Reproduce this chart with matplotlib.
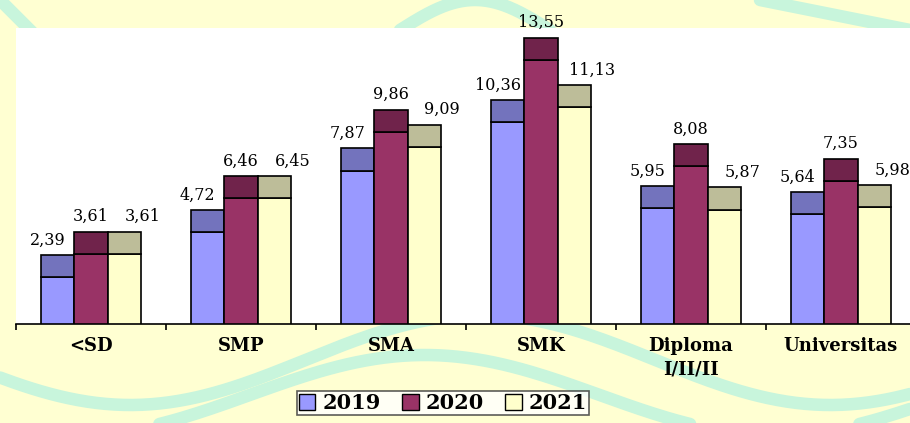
import numpy as np
import matplotlib.pyplot as plt
from matplotlib.patches import Patch

# data
kategori = ["<SD", "SMP", "SMA", "SMK", "Diploma\nI/II/II", "Universitas"]
tahun = ["2019", "2020", "2021"]
nilai_2019 = [2.39, 4.72, 7.87, 10.36, 5.95, 5.64]
nilai_2020 = [3.61, 6.46, 9.86, 13.55, 8.08, 7.35]
nilai_2021 = [3.61, 6.45, 9.09, 11.13, 5.87, 5.98]

warna_depan = ["#9999FF", "#993366", "#FFFFCC"]   # front face
warna_atas = ["#7373BD", "#70234B", "#BDBD99"]    # top face (3d look)

W, H = 910, 423
fig = plt.figure(figsize=(W / 100, H / 100), dpi=100, facecolor="#FFFFD2")

# background watermark, just some soft mint bands
def px(xs, ys):
    return np.array(xs) / W, 1 - np.array(ys) / H

t = np.linspace(0, 1, 200)
for xs, ys in [
    (t * 910, 360 + 45 * np.sin(t * 2 * np.pi * 1.3 + 0.4)),
    (t * 910, 395 + 40 * np.sin(t * 2 * np.pi * 1.3 + 0.9)),
    (t * 60, t * 60),
    (400 + t * 150, 30 - 30 * np.sin(t * np.pi)),
    (760 + t * 150, t * 30),
]:
    fx, fy = px(xs, ys)
    fig.add_artist(plt.Line2D(fx, fy, color="#C8F5DC", lw=9, zorder=0,
                              transform=fig.transFigure, solid_capstyle="round"))

ax = fig.add_axes([16 / W, (H - 324) / H, 900 / W, 296 / H])
ax.set_facecolor("white")
ax.set_zorder(1)

x = np.arange(len(kategori))
lebar = 0.222
depth = 1.13
semua = [nilai_2019, nilai_2020, nilai_2021]
geser_label = [-10, 0, 18]  # px shift of value labels

for i, vals in enumerate(semua):
    pos = x + (i - 1) * lebar
    ax.bar(pos, vals, width=lebar, color=warna_depan[i], edgecolor="black",
           linewidth=1.2, zorder=3)
    ax.bar(pos, [depth] * len(vals), bottom=vals, width=lebar,
           color=warna_atas[i], edgecolor="black", linewidth=1.2, zorder=3)
    for p, v in zip(pos, vals):
        ax.annotate(f"{v:.2f}".replace(".", ","), (p, v + depth),
                    xytext=(geser_label[i] * 0.72, 15 * 0.72),
                    textcoords="offset points", ha="center", va="center",
                    fontsize=11.5, family="DejaVu Serif", color="black",
                    annotation_clip=False)

ax.set_xlim(-0.5, len(kategori) - 0.5)
ax.set_ylim(0, 296 / 19.5)

for s in ["left", "top", "right"]:
    ax.spines[s].set_visible(False)
ax.spines["bottom"].set_linewidth(1.2)
ax.set_yticks([])

ax.set_xticks(np.arange(len(kategori) + 1) - 0.5)
ax.set_xticklabels([])
ax.tick_params(axis="x", which="major", direction="out", length=4.5, width=1.2)
ax.set_xticks(x, kategori, minor=True)
ax.tick_params(axis="x", which="minor", length=0, pad=9)
for lbl in ax.get_xticklabels(minor=True):
    lbl.set_fontfamily("DejaVu Serif")
    lbl.set_fontweight("bold")
    lbl.set_fontsize(13)
    lbl.set_linespacing(1.45)

handles = [Patch(facecolor=warna_depan[i], edgecolor="black", linewidth=1)
           for i in range(3)]
leg = fig.legend(handles, tahun, loc="upper center",
                 bbox_to_anchor=(443 / W, 1 - 391 / H), ncol=3,
                 frameon=True, fancybox=False, edgecolor="#333333",
                 handlelength=0.8, handleheight=0.8, handletextpad=0.35,
                 columnspacing=1.0, borderpad=0.1, borderaxespad=0.0,
                 prop={"family": "DejaVu Serif", "weight": "bold", "size": 15})
leg.get_frame().set_linewidth(1.2)
leg.set_zorder(5)

fig.savefig("out.png", dpi=100, facecolor=fig.get_facecolor())
